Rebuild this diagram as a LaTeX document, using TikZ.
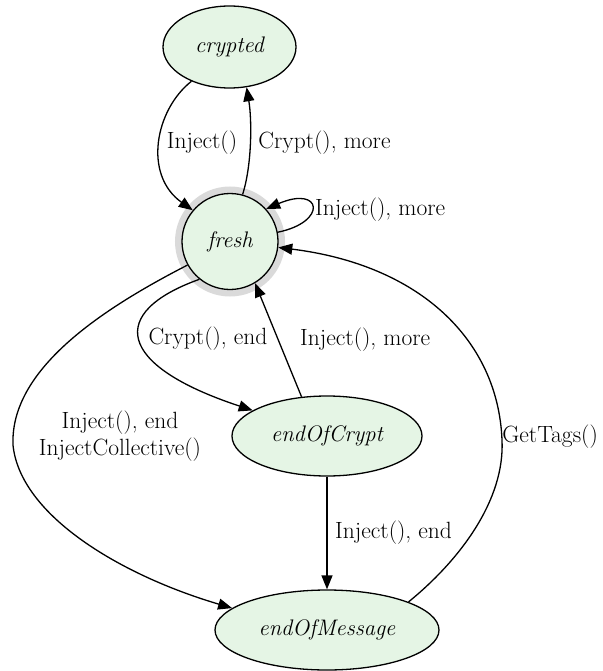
\documentclass[tikz,border=0pt]{standalone}
\usetikzlibrary{shapes.geometric,arrows.meta}
\definecolor{nodefill}{RGB}{229,245,229}
\definecolor{ringgray}{RGB}{218,218,218}
\begin{document}
\begin{tikzpicture}[x=1pt,y=-1pt,
  state/.style={ellipse,draw,line width=1.3pt,fill=nodefill,inner sep=0pt,
    font=\fontsize{22.5}{27}\selectfont\itshape},
  lbl/.style={inner sep=0pt,font=\fontsize{23.5}{27}\selectfont},
  edge/.style={line width=1.3pt,-{Triangle[length=14pt,width=11pt]}}]
\useasboundingbox (0,0) rectangle (602,671);
% nodes
\node[state,minimum width=133pt,minimum height=82pt] (crypted) at (229.5,47) {crypted};
\draw[ringgray,line width=7pt] (230,241.5) circle[radius=51.5pt];
\node[state,circle,minimum size=96pt] (fresh) at (230,241.5) {fresh};
\node[state,minimum width=190pt,minimum height=80pt] (endOfCrypt) at (327,436) {endOfCrypt};
\node[state,minimum width=224pt,minimum height=80pt] (endOfMessage) at (327,630) {endOfMessage};
% labels
\node[lbl] (lInj) at (202,143) {Inject()};
\node[lbl] (lCm) at (324.5,143) {Crypt(), more};
\node[lbl,anchor=west] (lLoop) at (315,210) {Inject(), more};
\node[lbl] (lCe) at (208,339) {Crypt(), end};
\node[lbl,anchor=west] (lIm) at (300,340) {Inject(), more};
\node[lbl,align=center] (lIe) at (120,436.5) {Inject(), end\\InjectCollective()};
\node[lbl,anchor=west] (lIe2) at (335,533) {Inject(), end};
\node[lbl,anchor=east] (lGt) at (598,437) {GetTags()};
% edges
\draw[edge] (crypted.222) .. controls (155,110) and (143,175) .. (fresh.140);
\draw[edge] (fresh.75) .. controls (252,165) and (252,120) .. (crypted.293);
\draw[edge] (fresh.11) .. controls (328,222) and (322,185) .. (fresh.42);
\draw[edge] (fresh.231) .. controls (108,312) and (115,365) .. (endOfCrypt.161);
\draw[edge] (endOfCrypt.123) -- (fresh.301);
\draw[edge] (fresh.209) .. controls (100,310) and (10,370) .. (13,445)
  .. controls (20,515) and (120,575) .. (endOfMessage.167);
\draw[edge] (endOfCrypt) -- (endOfMessage);
\draw[edge] (endOfMessage.19) .. controls (460,560) and (505,500) .. (502,440)
  .. controls (498,340) and (420,265) .. (fresh.353);
\end{tikzpicture}
\end{document}
